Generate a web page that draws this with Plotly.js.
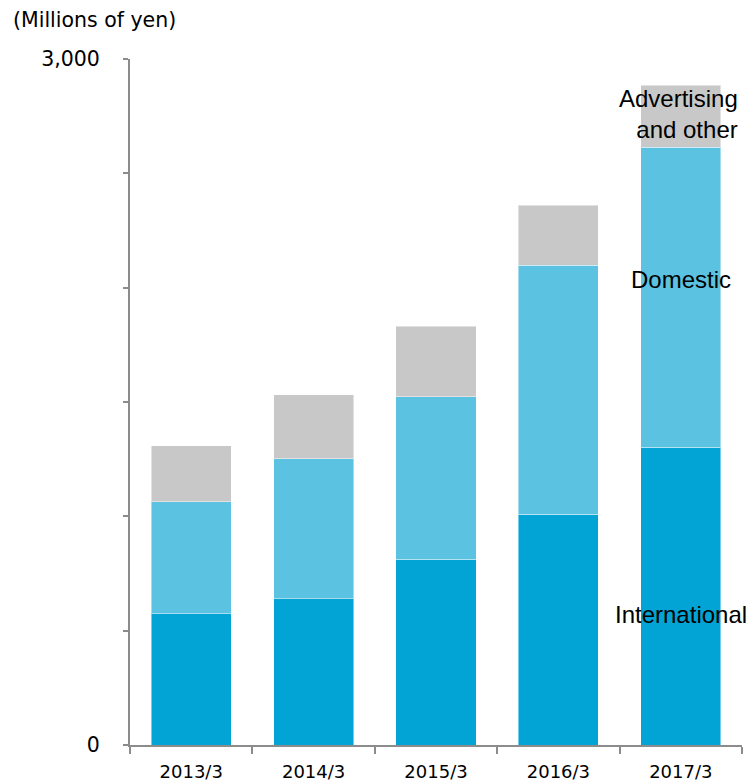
<!DOCTYPE html>
<html>
<head>
<meta charset="utf-8">
<script src="https://cdn.plot.ly/plotly-3.0.1.min.js"></script>
<style>html,body{margin:0;padding:0;background:#fff;}#chart{width:748px;height:784px;}</style>
</head>
<body>
<div id="chart"></div>
<script>
const categories = ['2013/3', '2014/3', '2015/3', '2016/3', '2017/3'];
const international = [574, 640, 813, 1009, 1302];
const domestic = [490, 611, 710, 1090, 1313];
const advertising = [244, 280, 309, 262, 271];
const yTickVals = [0, 500, 1000, 1500, 2000, 2500, 3000];
const yTickText = ['0', '', '', '', '', '', '3,000'];
const seriesNames = ['International', 'Domestic', 'Advertising<br>and other'];

const colors = ['#02A4D5', '#5BC2E1', '#C8C8C8'];
const edge = {color: 'rgba(255,255,255,0.45)', width: 1};

const traces = [international, domestic, advertising].map((vals, i) => ({
  type: 'bar', x: categories, y: vals, name: seriesNames[i],
  marker: {color: colors[i], line: edge}, hoverinfo: 'skip'
}));

const lastCat = categories[categories.length - 1];
const labelFont = {family: 'Liberation Sans, Arial, sans-serif', size: 24, color: '#000'};
const annotations = [
  {x: lastCat, y: international[4] * 0.44, text: seriesNames[0], showarrow: false, font: labelFont, xanchor: 'center', yanchor: 'middle'},
  {x: lastCat, y: international[4] + domestic[4] * 0.56, text: seriesNames[1], showarrow: false, font: labelFont, xanchor: 'center', yanchor: 'middle'},
  {x: lastCat, y: international[4] + domestic[4] + advertising[4] * 0.53, text: seriesNames[2], showarrow: false, font: labelFont, align: 'right', xanchor: 'center', yanchor: 'middle', xshift: -2}
];

const axisColor = '#8C8C8C';
const layout = {
  width: 748, height: 784,
  margin: {l: 130, r: 6, t: 59, b: 39, pad: 0, autoexpand: false},
  paper_bgcolor: '#fff', plot_bgcolor: '#fff',
  barmode: 'stack', bargap: 0.345,
  showlegend: false,
  font: {family: 'DejaVu Sans, Verdana, sans-serif', color: '#000'},
  title: {text: '(Millions of yen)', x: 13 / 748, xanchor: 'left', xref: 'container', y: 1 - 20 / 784, yanchor: 'middle', yref: 'container', font: {family: 'DejaVu Sans, Verdana, sans-serif', size: 20.5, color: '#000'}},
  xaxis: {
    type: 'category', range: [-0.5, categories.length - 0.5], autorange: false,
    showline: true, linecolor: axisColor, linewidth: 2, automargin: false,
    ticks: 'outside', tickson: 'boundaries', ticklen: 7, tickwidth: 2, tickcolor: axisColor,
    tickfont: {size: 18, color: '#000'}, ticklabelstandoff: 9,
    showgrid: false, zeroline: false, fixedrange: true
  },
  yaxis: {
    range: [0, 3000], autorange: false, showline: true, linecolor: axisColor, linewidth: 2, automargin: false,
    ticks: 'outside', ticklen: 5, tickwidth: 2, tickcolor: axisColor,
    tickmode: 'array', tickvals: yTickVals, ticktext: yTickText,
    tickfont: {size: 20.5, color: '#000'}, ticklabelstandoff: 19,
    showgrid: false, zeroline: false, fixedrange: true
  },
  annotations: annotations
};

Plotly.newPlot('chart', traces, layout, {displayModeBar: false, staticPlot: true});
</script>
</body>
</html>
